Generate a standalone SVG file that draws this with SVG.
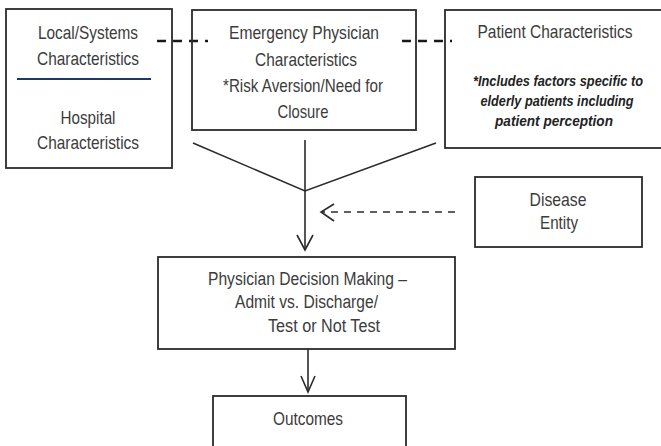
<svg xmlns="http://www.w3.org/2000/svg" width="661" height="446" viewBox="0 0 661 446">
<style>
.box{fill:none;stroke:#2b2b2b;stroke-width:1.8}
.t{font-family:"Liberation Sans",Arial,sans-serif;font-size:19px;fill:#3c3c3c;text-anchor:middle}
.ts{font-family:"Liberation Sans",Arial,sans-serif;font-size:18px;fill:#3c3c3c}
.bi{font-family:"Liberation Sans",Arial,sans-serif;font-size:15px;font-weight:bold;font-style:italic;fill:#222;text-anchor:middle}
.ln{fill:none;stroke:#2b2b2b;stroke-width:1.6}
.dash{fill:none;stroke:#1a1a1a;stroke-width:2.5;stroke-dasharray:9 7}
.dash2{fill:none;stroke:#2b2b2b;stroke-width:1.6;stroke-dasharray:7 6}
</style>
<rect width="661" height="446" fill="#fff"/>
<g id="connectors">
<line class="dash" x1="157" y1="41" x2="208" y2="41"/>
<line class="dash" x1="402" y1="41" x2="452" y2="41"/>
<polyline class="ln" points="193,143 305,191 436,143"/>
<line class="ln" x1="305" y1="140" x2="305" y2="250"/>
<polyline class="ln" points="297,235 305,250 313,235"/>
<line class="dash2" x1="455" y1="212" x2="322" y2="212"/>
<polyline class="ln" points="334,204 321,212 334,221"/>
<line class="ln" x1="308" y1="349" x2="308" y2="392"/>
<polyline class="ln" points="301,376 308,392 315,376"/>
</g>
<g id="local">
<rect class="box" x="6" y="9" width="166" height="159"/>
<line x1="17" y1="79" x2="151" y2="79" stroke="#1f3864" stroke-width="2.2"/>
<text class="t" x="88" y="39" textLength="100" lengthAdjust="spacingAndGlyphs">Local/Systems</text>
<text class="t" x="88" y="65" textLength="102" lengthAdjust="spacingAndGlyphs">Characteristics</text>
<text class="t" x="88" y="124" textLength="55" lengthAdjust="spacingAndGlyphs">Hospital</text>
<text class="t" x="88" y="149" textLength="102" lengthAdjust="spacingAndGlyphs">Characteristics</text>
</g>
<g id="emergency">
<rect class="box" x="192" y="10" width="224" height="120"/>
<text class="t" x="304" y="39" textLength="150" lengthAdjust="spacingAndGlyphs">Emergency Physician</text>
<text class="t" x="306" y="66" textLength="102" lengthAdjust="spacingAndGlyphs">Characteristics</text>
<text class="t" x="303" y="92" textLength="160" lengthAdjust="spacingAndGlyphs">*Risk Aversion/Need for</text>
<text class="t" x="303" y="118" textLength="51" lengthAdjust="spacingAndGlyphs">Closure</text>
</g>
<g id="patient">
<rect class="box" x="445" y="10" width="222" height="138"/>
<text class="t" x="555" y="38" textLength="155" lengthAdjust="spacingAndGlyphs">Patient Characteristics</text>
<text class="bi" x="558" y="86" textLength="170" lengthAdjust="spacingAndGlyphs">*Includes factors specific to</text>
<text class="bi" x="557" y="106" textLength="153" lengthAdjust="spacingAndGlyphs">elderly patients including</text>
<text class="bi" x="554" y="126" textLength="118" lengthAdjust="spacingAndGlyphs">patient perception</text>
</g>
<g id="disease">
<rect class="box" x="475" y="177" width="167" height="70"/>
<text class="t" x="558" y="206" textLength="57" lengthAdjust="spacingAndGlyphs">Disease</text>
<text class="t" x="559" y="229" textLength="38" lengthAdjust="spacingAndGlyphs">Entity</text>
</g>
<g id="decision">
<rect class="box" x="158" y="257" width="297" height="92"/>
<text class="ts" x="208" y="285" textLength="199" lengthAdjust="spacingAndGlyphs">Physician Decision Making –</text>
<text class="ts" x="235" y="308" textLength="143" lengthAdjust="spacingAndGlyphs">Admit vs. Discharge/</text>
<text class="ts" x="268" y="332" textLength="112" lengthAdjust="spacingAndGlyphs">Test or Not Test</text>
</g>
<g id="outcomes">
<rect class="box" x="213" y="396" width="193" height="60"/>
<text class="t" x="308" y="425" textLength="70" lengthAdjust="spacingAndGlyphs">Outcomes</text>
</g>
</svg>
